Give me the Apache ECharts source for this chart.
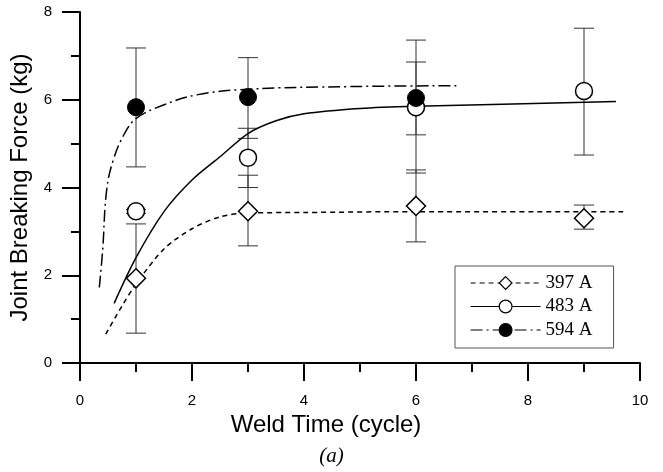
<!DOCTYPE html>
<html>
<head>
<meta charset="utf-8">
<script src="https://cdn.jsdelivr.net/npm/echarts@6/dist/echarts.min.js"></script>
<style>
  html, body { margin: 0; padding: 0; background: #fff; }
  #chart { width: 663px; height: 472px; }
</style>
</head>
<body>
<div id="chart"></div>
<script>
  // measured weld times (cycle)
  const weldTimes = [1, 3, 6, 9];

  // 397 A
  const mean397 = [1.93, 3.46, 3.58, 3.30];
  const low397 = [0.68, 2.67, 2.76, 3.05];
  const high397 = [3.17, 4.28, 4.40, 3.60];
  const fit397 = [[0.46, 0.66], [0.75, 1.30], [1.0, 1.80], [1.5, 2.60], [2.0, 3.06],
    [2.5, 3.33], [3.0, 3.42], [4.0, 3.43], [6.0, 3.45], [9.7, 3.45]];

  // 483 A
  const mean483 = [3.46, 4.68, 5.83, 6.20];
  const low483 = [3.41, 4.00, 4.33, 4.74];
  const high483 = [3.50, 5.35, 6.86, 7.63];
  const fit483 = [[0.61, 1.36], [1.0, 2.40], [1.5, 3.45], [2.0, 4.17], [2.5, 4.70],
    [3.0, 5.23], [3.5, 5.52], [4.0, 5.68], [5.0, 5.80], [6.0, 5.85], [9.57, 5.96]];

  // 594 A (no point at 9 cycles)
  const mean594 = [5.83, 6.06, 6.04];
  const low594 = [4.47, 5.12, 5.20];
  const high594 = [7.18, 6.96, 7.36];
  const fit594 = [[0.345, 1.72], [0.405, 2.58], [0.476, 3.94], [0.595, 4.63], [0.80, 5.24],
    [1.01, 5.58], [1.49, 5.88], [2.08, 6.11], [3.0, 6.24], [4.82, 6.30], [6.77, 6.32]];

  const xTicks = { min: 0, max: 10, interval: 2 };
  const yTicks = { min: 0, max: 8, interval: 2 };

  const points = (means) => means.map((v, i) => [weldTimes[i], v]);
  const errors = (lows, highs) => lows.map((v, i) => [weldTimes[i], v, highs[i]]);

  const dash397 = [5, 4];
  const dash594 = [12, 4, 2, 4];

  function renderErrorBar(params, api) {
    const x = api.value(0);
    const top = api.coord([x, api.value(2)]);
    const bottom = api.coord([x, api.value(1)]);
    const half = 10;
    const style = { stroke: '#333', lineWidth: 1 };
    return {
      type: 'group',
      children: [
        { type: 'line', shape: { x1: top[0], y1: top[1], x2: bottom[0], y2: bottom[1] }, style },
        { type: 'line', shape: { x1: top[0] - half, y1: top[1], x2: top[0] + half, y2: top[1] }, style },
        { type: 'line', shape: { x1: bottom[0] - half, y1: bottom[1], x2: bottom[0] + half, y2: bottom[1] }, style }
      ]
    };
  }

  function errorSeries(name, data) {
    return {
      name: name,
      type: 'custom',
      renderItem: renderErrorBar,
      encode: { x: 0, y: [1, 2] },
      data: data,
      z: 1,
      silent: true
    };
  }

  const axisCommon = {
    type: 'value',
    axisLine: { show: true, lineStyle: { color: '#000', width: 2 } },
    axisTick: { show: true, inside: false, length: 18, lineStyle: { color: '#000', width: 2 } },
    minorTick: { show: true, splitNumber: 2, length: 9, lineStyle: { color: '#000', width: 2 } },
    splitLine: { show: false },
    axisLabel: { color: '#000', fontFamily: 'Liberation Sans', fontSize: 15 },
    nameLocation: 'middle',
    nameTextStyle: { color: '#000', fontFamily: 'Liberation Sans', fontSize: 24 }
  };

  const chart = echarts.init(document.getElementById('chart'));
  chart.setOption({
    animation: false,
    backgroundColor: '#fff',
    title: {
      text: '(a)',
      left: 'center',
      top: 441,
      textStyle: { fontFamily: 'Liberation Serif', fontStyle: 'italic', fontWeight: 'normal', fontSize: 21, color: '#000' }
    },
    grid: { left: 80, right: 23, top: 12, bottom: 109 },
    legend: {
      orient: 'vertical',
      left: 455,
      top: 266,
      padding: [7, 21, 8, 15],
      itemWidth: 70,
      itemHeight: 16,
      itemGap: 3.5,
      borderColor: '#555',
      borderWidth: 1,
      textStyle: { fontFamily: 'Liberation Serif', fontSize: 19, color: '#000', lineHeight: 20 },
      data: [
        { name: '397 A', itemStyle: { color: '#fff', borderColor: '#000', borderWidth: 1.2, opacity: 1 },
          lineStyle: { color: '#000', width: 1.2, type: dash397 } },
        { name: '483 A', itemStyle: { color: '#fff', borderColor: '#000', borderWidth: 1.2, opacity: 1 },
          lineStyle: { color: '#000', width: 1.2, type: 'solid' } },
        { name: '594 A', itemStyle: { color: '#000', borderColor: '#000', borderWidth: 1.2, opacity: 1 },
          lineStyle: { color: '#000', width: 1.2, type: dash594 } }
      ]
    },
    xAxis: Object.assign({}, axisCommon, xTicks, {
      name: 'Weld Time (cycle)',
      nameGap: 45,
      nameTextStyle: Object.assign({}, axisCommon.nameTextStyle, { padding: [0, 68, 0, 0] }),
      axisLabel: Object.assign({}, axisCommon.axisLabel, { margin: 30 })
    }),
    yAxis: Object.assign({}, axisCommon, yTicks, {
      name: 'Joint Breaking Force (kg)',
      nameGap: 42,
      axisLabel: Object.assign({}, axisCommon.axisLabel, { margin: 28 })
    }),
    series: [
      {
        name: '397 A', type: 'line', data: fit397, smooth: 0.3,
        symbol: 'diamond', showSymbol: false, z: 2,
        lineStyle: { color: '#000', width: 1.5, type: dash397 },
        itemStyle: { color: '#fff', borderColor: '#000' }
      },
      {
        name: '483 A', type: 'line', data: fit483, smooth: 0.3,
        symbol: 'circle', showSymbol: false, z: 2,
        lineStyle: { color: '#000', width: 1.5, type: 'solid' },
        itemStyle: { color: '#fff', borderColor: '#000' }
      },
      {
        name: '594 A', type: 'line', data: fit594, smooth: 0.4,
        symbol: 'circle', showSymbol: false, z: 2,
        lineStyle: { color: '#000', width: 1.5, type: dash594 },
        itemStyle: { color: '#000' }
      },
      errorSeries('397 A', errors(low397, high397)),
      errorSeries('483 A', errors(low483, high483)),
      errorSeries('594 A', errors(low594, high594)),
      {
        name: '397 A', type: 'scatter', data: points(mean397), z: 3,
        symbol: 'diamond', symbolSize: 19,
        itemStyle: { color: '#fff', borderColor: '#000', borderWidth: 1.5, opacity: 1 }
      },
      {
        name: '483 A', type: 'scatter', data: points(mean483), z: 3,
        symbol: 'circle', symbolSize: 17,
        itemStyle: { color: '#fff', borderColor: '#000', borderWidth: 1.5, opacity: 1 }
      },
      {
        name: '594 A', type: 'scatter', data: points(mean594), z: 3,
        symbol: 'circle', symbolSize: 17,
        itemStyle: { color: '#000', borderColor: '#000', borderWidth: 1, opacity: 1 }
      }
    ]
  });
</script>
</body>
</html>
